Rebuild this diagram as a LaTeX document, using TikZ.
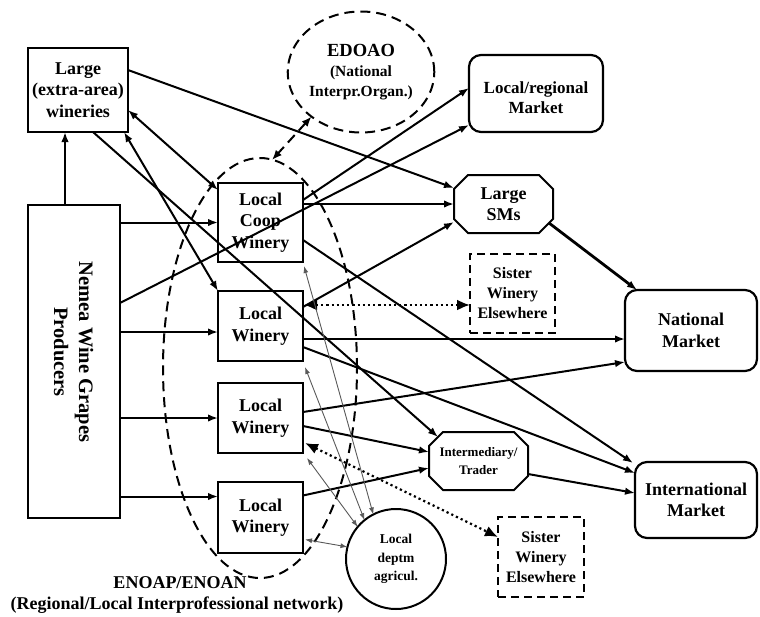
\documentclass[tikz,border=0pt]{standalone}
\usepackage{fontspec}
\setmainfont{Liberation Serif}
\usetikzlibrary{arrows.meta,calc,shapes.geometric}

\begin{document}
\begin{tikzpicture}[x=1pt,y=-1pt,
  every node/.style={inner sep=0pt, outer sep=0pt, align=center,
    font=\bfseries\fontsize{18}{21.5}\selectfont},
  sqbox/.style={draw, line width=2.2pt, rectangle},
  rbox/.style={draw, line width=2.2pt, rectangle, rounded corners=12pt},
  dbox/.style={draw, line width=2pt, rectangle, dash pattern=on 8pt off 5pt},
  netdash/.style={line width=2pt, dash pattern=on 10pt off 6pt},
  flow/.style={line width=2pt, -{Latex[length=10pt,width=7.5pt]}},
  twoway/.style={line width=2pt, {Latex[length=10pt,width=7.5pt]}-{Latex[length=10pt,width=7.5pt]}},
  thinlink/.style={line width=0.9pt, draw=black!65,
    {Latex[length=7pt,width=5pt]}-{Latex[length=7pt,width=5pt]}},
  dotlink/.style={line width=2.2pt, dash pattern=on 2.2pt off 3pt,
    {Latex[length=13pt,width=11pt]}-{Latex[length=13pt,width=11pt]}},
  octo/.style={line width=2pt}
]
\useasboundingbox (0,0) rectangle (760,616);

% regional network and national organisation
\node[ellipse, draw, netdash, minimum width=194pt, minimum height=420pt] (enoap) at (260,368) {};
\node[ellipse, draw, netdash, minimum width=135pt, minimum height=121pt,
      font=\bfseries\fontsize{15.5}{20}\selectfont] (edoao) at (361,72)
  {{\fontsize{18.5}{20}\selectfont EDOAO}\\(National\\Interpr.Organ.)};

% producers and wineries
\node[sqbox, minimum width=100pt, minimum height=84pt] (large) at (78,90) {Large\\(extra-area)\\wineries};
\node[sqbox, minimum width=92pt, minimum height=313pt] (nemea) at (74,361.5) {};
\node[rotate=-90, font=\bfseries\fontsize{20.5}{25}\selectfont] (nemeatext) at (73.5,352)
  {Nemea Wine Grapes\\Producers};
\node[sqbox, minimum width=85pt, minimum height=79pt] (coop) at (260.5,222.5) {Local\\Coop\\Winery};
\node[sqbox, minimum width=85pt, minimum height=70pt] (lw1) at (260.5,326) {Local\\Winery};
\node[sqbox, minimum width=85pt, minimum height=70pt] (lw2) at (260.5,418) {Local\\Winery};
\node[sqbox, minimum width=85pt, minimum height=71pt] (lw3) at (260.5,517.5) {Local\\Winery};

% markets and intermediaries
\node[rbox, minimum width=134pt, minimum height=77pt] (localmkt) at (536,93.5) {};
\node[font=\bfseries\fontsize{17}{20}\selectfont] (localtext) at (536,98) {Local/regional\\Market};
\node (sms) [minimum width=99pt, minimum height=58pt] at (503.5,204) {Large\\SMs};
\node[rbox, minimum width=132pt, minimum height=81pt] (national) at (691,330.5) {National\\Market};
\node[rbox, minimum width=122pt, minimum height=76pt] (intl) at (696,500) {International\\Market};
\node (inter) [minimum width=99pt, minimum height=58pt,
      font=\bfseries\fontsize{13}{18}\selectfont] at (478.5,461) {Intermediary/\\Trader};
\node[dbox, minimum width=85pt, minimum height=79pt,
      font=\bfseries\fontsize{16}{20}\selectfont] (sister1) at (512.5,293.5) {Sister\\Winery\\Elsewhere};
\node[dbox, minimum width=86pt, minimum height=80pt,
      font=\bfseries\fontsize{16}{20}\selectfont] (sister2) at (541,557) {Sister\\Winery\\Elsewhere};
\node[circle, draw, line width=2pt, minimum size=100pt,
      font=\bfseries\fontsize{13.5}{18.5}\selectfont] (deptm) at (396,559) {Local\\deptm\\agricul.};

% octagonal outlines of the two trade nodes
\foreach \o in {sms,inter}{
  \draw[octo] ($(\o.north west)+(14,0)$) -- ($(\o.north east)+(-14,0)$)
    -- ($(\o.north east)+(0,14)$) -- ($(\o.south east)+(0,-14)$)
    -- ($(\o.south east)+(-14,0)$) -- ($(\o.south west)+(14,0)$)
    -- ($(\o.south west)+(0,-14)$) -- ($(\o.north west)+(0,14)$) -- cycle;
}

% network caption
\node (netname) at (180,583) {ENOAP/ENOAN};
\node (netlong) at (177,605) {(Regional/Local Interprofessional network)};

% grape flows from the producers
\draw[flow] ($(nemea.north west)+(37,0)$) -- ($(large.south west)+(37,0)$);
\draw[flow] (coop.west -| nemea.east) -- (coop.west);
\draw[flow] ($(lw1.west -| nemea.east)+(0,6)$) -- ($(lw1.west)+(0,6)$);
\draw[flow] (lw2.west -| nemea.east) -- (lw2.west);
\draw[flow] ($(lw3.west -| nemea.east)+(0,-21)$) -- ($(lw3.west)+(0,-21)$);
\draw[flow] ($(nemea.north east)+(0,98)$) -- ($(localmkt.south west)+(0,-7)$);

% large wineries
\draw[twoway] ($(large.south east)+(0,-22)$) -- ($(coop.north west)+(0,7)$);
\draw[twoway] ($(large.south east)+(-4,0)$) -- (lw1.north west);
\draw[flow] ($(large.south west)+(65,0)$) -- ($(inter.north west)+(9,5)$);
\draw[flow] ($(large.north east)+(0,22)$) -- ($(sms.west)+(0,-16)$);

% winery sales channels
\draw[flow] ($(coop.north east)+(0,17)$) -- ($(localmkt.west)+(0,-5.5)$);
\draw[flow] (coop.east |- sms.west) -- (sms.west);
\draw[flow] ($(coop.south east)+(0,-22)$) -- ($(intl.north west)+(-2,1)$);
\draw[flow] ($(lw1.north east)+(0,16)$) -- ($(sms.west)+(0,18)$);
\draw[flow] ($(lw1.east)+(0,13)$) -- ($(lw1.east -| national.west)+(0,13)$);
\draw[flow] ($(lw1.south east)+(0,-14)$) -- ($(intl.west)+(0,-27)$);
\draw[flow] ($(lw2.east)+(0,-6)$) -- ($(national.south west)+(0,-9)$);
\draw[flow] ($(lw2.east)+(0,8)$) -- ($(inter.west)+(0,-9)$);
\draw[flow] ($(lw3.east)+(0,-22)$) -- ($(inter.west)+(0,7)$);
\draw[flow] ($(inter.east)+(0,13)$) -- ($(intl.west)+(0,-7)$);
\draw[flow, line width=2.8pt] ($(sms.south east)+(-4,-10)$) -- ($(national.north west)+(12,0)$);

% sister wineries
\draw[dotlink] ($(lw1.north east)+(1,14)$) -- ($(sister1.north west)+(0,51)$);
\draw[dotlink] ($(lw2.south east)+(2,-10)$) -- ($(sister2.north west)+(0,20)$);

% national organisation and the regional network
\draw[netdash, {Latex[length=10pt,width=8pt]}-{Latex[length=10pt,width=8pt]}]
  (edoao.222) -- ($(enoap.north)+(12,2)$);

% links to the local agricultural department
\draw[thinlink] ($(coop.south east)+(1,4)$) -- (deptm.117);
\draw[thinlink] ($(lw1.south east)+(2,6)$) -- (deptm.129);
\draw[thinlink] ($(lw2.south east)+(4,5)$) -- (deptm.140);
\draw[thinlink] ($(lw3.east)+(2,22)$) -- (deptm.166);
\end{tikzpicture}
\end{document}
